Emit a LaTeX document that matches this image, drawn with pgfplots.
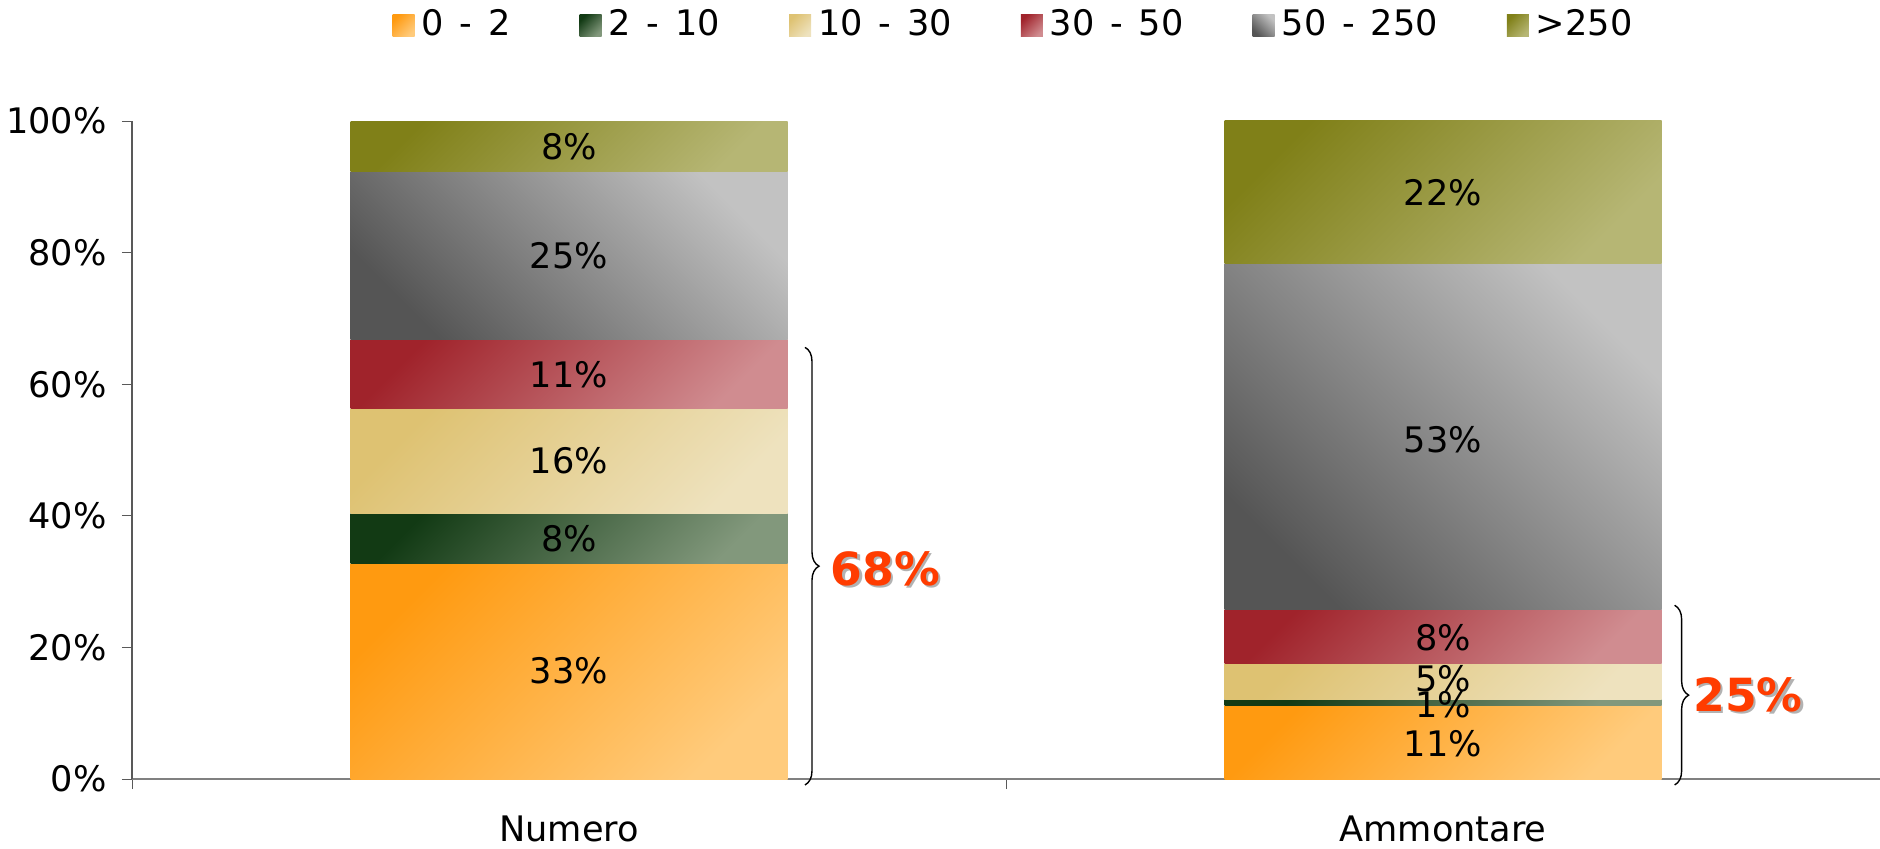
\documentclass[border=0pt]{standalone}
\usepackage{fontspec}
\setmainfont{DejaVu Sans}
\usepackage{pgfplots}
\usepackage{pgfplotstable}
\pgfplotsset{compat=1.18}
\usetikzlibrary{decorations.pathreplacing,calc}

\definecolor{orD}{HTML}{FF9A10}
\definecolor{orL}{HTML}{FFCB7C}
\definecolor{grD}{HTML}{123A14}
\definecolor{grL}{HTML}{82987C}
\definecolor{beD}{HTML}{DEC272}
\definecolor{beL}{HTML}{EEE2BE}
\definecolor{reD}{HTML}{A0232B}
\definecolor{reL}{HTML}{D08C90}
\definecolor{gyD}{HTML}{555555}
\definecolor{gyL}{HTML}{C2C2C2}
\definecolor{olD}{HTML}{808018}
\definecolor{olL}{HTML}{B6B674}
\definecolor{hilite}{HTML}{FF3C00}

% share of each class, in percent (one table per bar, so each bar gets its own shading)
\pgfplotstableread{
x  a    b    c    d    e    f
0  32.8 7.5  16.0 10.5 25.5 7.7
}\numero
\pgfplotstableread{
x  a    b    c    d    e    f
1  11.1 1.0  5.4  8.2  52.6 21.7
}\ammontare

% wider dash between the bounds of a class, as in the legend of the original
\newcommand{\rg}{\hspace{0.45em}-\hspace{0.45em}}

\pgfplotsset{
  seg/.style 2 args={draw=none, top color=#1, bottom color=#2, shading angle=45},
  gseg/.style={draw=none, top color=gyL, bottom color=gyD, shading angle=-45},
  frame/.style={
    width=17.48cm, height=6.58cm, scale only axis,
    ybar stacked, bar width=0.5, reverse stacked plots=false,
    xmin=-0.5, xmax=1.5, ymin=0, ymax=100,
    clip=false,
  },
}

\begin{document}
\begin{tikzpicture}
\begin{axis}[
  frame, name=ax,
  axis lines*=left,
  x axis line style={draw=gray},
  y axis line style={draw=black!65},
  xtick={-0.5,0.5,1.5}, xticklabels={},
  extra x ticks={0,1},
  extra x tick labels={Numero,Ammontare},
  extra x tick style={major tick length=0pt, xticklabel style={yshift=-0.24cm}},
  ytick={0,20,...,100},
  yticklabel={\pgfmathprintnumber{\tick}\%},
  yticklabel style={xshift=-0.03cm},
  tick align=outside,
  major tick length=0.1cm,
  tick style={draw=black!65},
  /pgf/number format/assume math mode=true,
  legend columns=6,
  legend style={draw=none, fill=none, at={(0.5,1)}, anchor=south,
    yshift=0.72cm, inner sep=0pt, xshift=0.1cm,
    /tikz/every even column/.append style={column sep=0.62cm}},
  legend image code/.code={\path[#1] (0cm,-0.11cm) rectangle (0.22cm,0.11cm);},
]
\addplot[seg={orD}{orL}] table[x=x,y=a]{\numero};
\addlegendentry{0\rg2}
\addplot[seg={grD}{grL}] table[x=x,y=b]{\numero};
\addlegendentry{2\rg10}
\addplot[seg={beD}{beL}] table[x=x,y=c]{\numero};
\addlegendentry{10\rg30}
\addplot[seg={reD}{reL}] table[x=x,y=d]{\numero};
\addlegendentry{30\rg50}
\addplot[gseg] table[x=x,y=e]{\numero};
\addlegendentry{50\rg250}
\addplot[seg={olD}{olL}] table[x=x,y=f]{\numero};
\addlegendentry{>250}
\end{axis}

\begin{axis}[frame, hide axis]
\addplot[seg={orD}{orL}] table[x=x,y=a]{\ammontare};
\addplot[seg={grD}{grL}] table[x=x,y=b]{\ammontare};
\addplot[seg={beD}{beL}] table[x=x,y=c]{\ammontare};
\addplot[seg={reD}{reL}] table[x=x,y=d]{\ammontare};
\addplot[gseg] table[x=x,y=e]{\ammontare};
\addplot[seg={olD}{olL}] table[x=x,y=f]{\ammontare};

% segment labels
\node at (axis cs:0,16.4) {33\%};
\node at (axis cs:0,36.5) {8\%};
\node at (axis cs:0,48.3) {16\%};
\node at (axis cs:0,61.5) {11\%};
\node at (axis cs:0,79.5) {25\%};
\node at (axis cs:0,96.1) {8\%};
\node at (axis cs:1,5.4) {11\%};
\node at (axis cs:1,11.3) {1\%};
\node at (axis cs:1,15.2) {5\%};
\node at (axis cs:1,21.4) {8\%};
\node at (axis cs:1,51.6) {53\%};
\node at (axis cs:1,89.1) {22\%};

% braces
\draw[decorate, decoration={brace, amplitude=0.14cm}] (axis cs:0.27,65.6) -- (axis cs:0.27,-0.9);
\draw[decorate, decoration={brace, amplitude=0.14cm}] (axis cs:1.265,26.4) -- (axis cs:1.265,-0.9);
\coordinate (p68) at (axis cs:0.362,32);
\coordinate (p25) at (axis cs:1.349,12.8);
\end{axis}

\tikzset{big/.style={font=\fontsize{13}{15}\selectfont\bfseries}}
\node[big, text=black!30] at ([shift={(0.7pt,-0.7pt)}]p68) {68\%};
\node[big, text=hilite] at (p68) {68\%};
\node[big, text=black!30] at ([shift={(0.7pt,-0.7pt)}]p25) {25\%};
\node[big, text=hilite] at (p25) {25\%};

\pgfresetboundingbox
\path ($(ax.south west)+(-1.32cm,-0.69cm)$) rectangle ($(ax.north east)+(0,1.21cm)$);
\end{tikzpicture}
\end{document}
